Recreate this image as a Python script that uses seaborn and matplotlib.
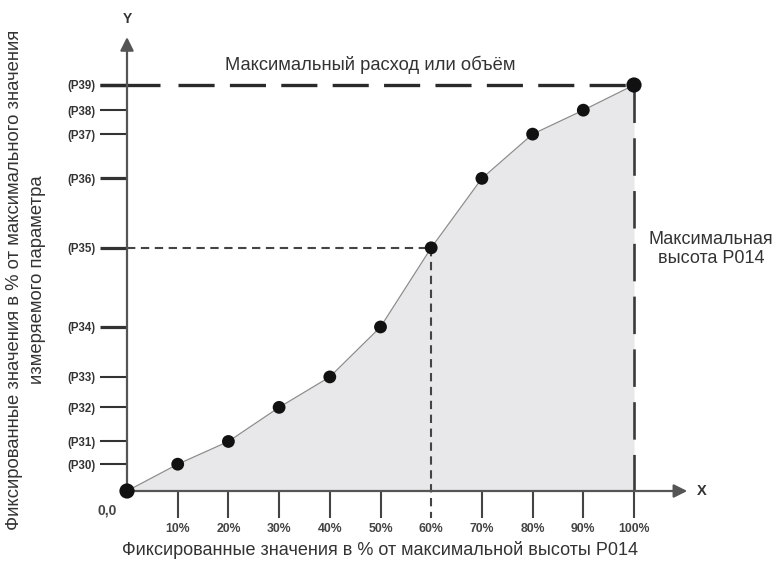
import matplotlib
matplotlib.use("Agg")
import matplotlib.pyplot as plt
import pandas as pd
import seaborn as sns

# Calibration points: fixed height (% of max P014) vs. value (% of max flow/volume)
x_pct = [0, 10, 20, 30, 40, 50, 60, 70, 80, 90, 100]
y_pct = [0, 6.6, 12.2, 20.6, 28.1, 40.4, 59.9, 77.0, 87.9, 93.8, 100]
x_tick_labels = ["10%", "20%", "30%", "40%", "50%", "60%", "70%", "80%", "90%", "100%"]
y_tick_labels = ["(P30)", "(P31)", "(P32)", "(P33)", "(P34)",
                 "(P35)", "(P36)", "(P37)", "(P38)", "(P39)"]
heavy_y_ticks = ["(P34)", "(P35)", "(P36)", "(P39)"]
guide_index = 6  # point marked with dashed guides (60% -> P35)

sns.set_style("white")
plt.rcParams["font.family"] = ["Liberation Sans", "DejaVu Sans"]
plt.rcParams["lines.scale_dashes"] = False

W, H = 776, 563
fig = plt.figure(figsize=(W / 100, H / 100), dpi=100)
ox, oy = 127, 491          # origin in pixels
sx, sy = 507, 406          # length of 100 % on each axis in pixels
ax = fig.add_axes([ox / W, (H - oy) / H, sx / W, sy / H])
ax.set_xlim(0, 100)
ax.set_ylim(0, 100)
for s in ax.spines.values():
    s.set_visible(False)

df = pd.DataFrame({"x": x_pct, "y": y_pct})

# shaded area under the curve
ax.fill_between(df["x"], 0, df["y"], color="#e8e8ea", lw=0, zorder=1)

# guides for the maximum
ax.plot([-5.3, 6.5], [100, 100], color="#2a2a2a", lw=2.4, solid_capstyle="butt", zorder=3, clip_on=False)
ax.plot([10.1, 100], [100, 100], color="#2a2a2a", lw=2.4, dashes=(26, 11),
        dash_capstyle="butt", zorder=3, clip_on=False)
ax.plot([100, 100], [100, 0], color="#3a3a3a", lw=1.9, dashes=(27, 11),
        dash_capstyle="butt", zorder=3, clip_on=False)

# dashed guides to the highlighted point
gx, gy = x_pct[guide_index], y_pct[guide_index]
ax.plot([0, gx], [gy, gy], color="#444444", lw=1.5, dashes=(6, 4), zorder=3, clip_on=False)
ax.plot([gx, gx], [gy, -6.7], color="#444444", lw=1.5, dashes=(6, 4), zorder=3, clip_on=False)

# curve and points
sns.lineplot(data=df, x="x", y="y", color="#8c8c8c", lw=0.9, ax=ax, zorder=4, clip_on=False)
sizes = [120 if i in (0, len(x_pct) - 1) else 85 for i in range(len(x_pct))]
sns.scatterplot(data=df, x="x", y="y", s=sizes, color="#111111", edgecolor="none",
                ax=ax, zorder=6, clip_on=False, legend=False)
ax.set_xlabel("")
ax.set_ylabel("")

# axes with arrows
arrow = dict(arrowstyle="-|>", color="#555555", lw=1.6, mutation_scale=20, shrinkA=0, shrinkB=0)
ax.annotate("", xy=(0, 111.8), xytext=(0, 0), arrowprops=arrow, annotation_clip=False, zorder=5)
ax.annotate("", xy=(110.5, 0), xytext=(0, 0), arrowprops=arrow, annotation_clip=False, zorder=5)
ax.text(0, 116.3, "Y", ha="center", va="center", fontsize=10, fontweight="bold", color="#333333")
ax.text(113.3, 0, "X", ha="center", va="center", fontsize=10.5, fontweight="bold", color="#333333")
ax.text(-3.9, -4.7, "0,0", ha="center", va="center", fontsize=10, fontweight="bold", color="#444444")

# ticks
ax.set_xticks(x_pct[1:])
ax.set_xticklabels(x_tick_labels)
ax.set_yticks(y_pct[1:])
ax.set_yticklabels(y_tick_labels)
ax.tick_params(axis="x", direction="out", length=19.4, width=1.5, color="#444444",
               pad=3.5, labelsize=8.8, labelcolor="#444444", bottom=True)
ax.tick_params(axis="y", direction="out", length=19.4, width=1.5, color="#333333",
               pad=3, labelsize=8.3, labelcolor="#333333", left=True)
for t in ax.get_xticklabels() + ax.get_yticklabels():
    t.set_fontweight("bold")
for tick, lab in zip(ax.yaxis.get_major_ticks(), y_tick_labels):
    if lab in heavy_y_ticks:
        tick.tick1line.set_markeredgewidth(2.3)
for tick, xv in zip(ax.xaxis.get_major_ticks(), x_pct[1:]):
    if xv == gx:
        tick.tick1line.set_visible(False)

# annotations
ax.text(47.9, 104.9, "Максимальный расход или объём", ha="center", va="center",
        fontsize=13.2, color="#333333")
ax.text(115.2, 59.6, "Максимальная\nвысота P014", ha="center", va="center",
        fontsize=13, color="#333333", linespacing=1.2, multialignment="center")

fig.text(380 / W, 1 - 550 / H, "Фиксированные значения в % от максимальной высоты P014",
         ha="center", va="center", fontsize=13, color="#333333")
fig.text(26 / W, 1 - 280 / H,
         "Фиксированные значения в % от максимального значения\nизмеряемого параметра",
         ha="center", va="center", rotation=90, fontsize=13.3, color="#333333",
         linespacing=1.45, multialignment="center")

fig.savefig("out.png", dpi=100, facecolor="white")
